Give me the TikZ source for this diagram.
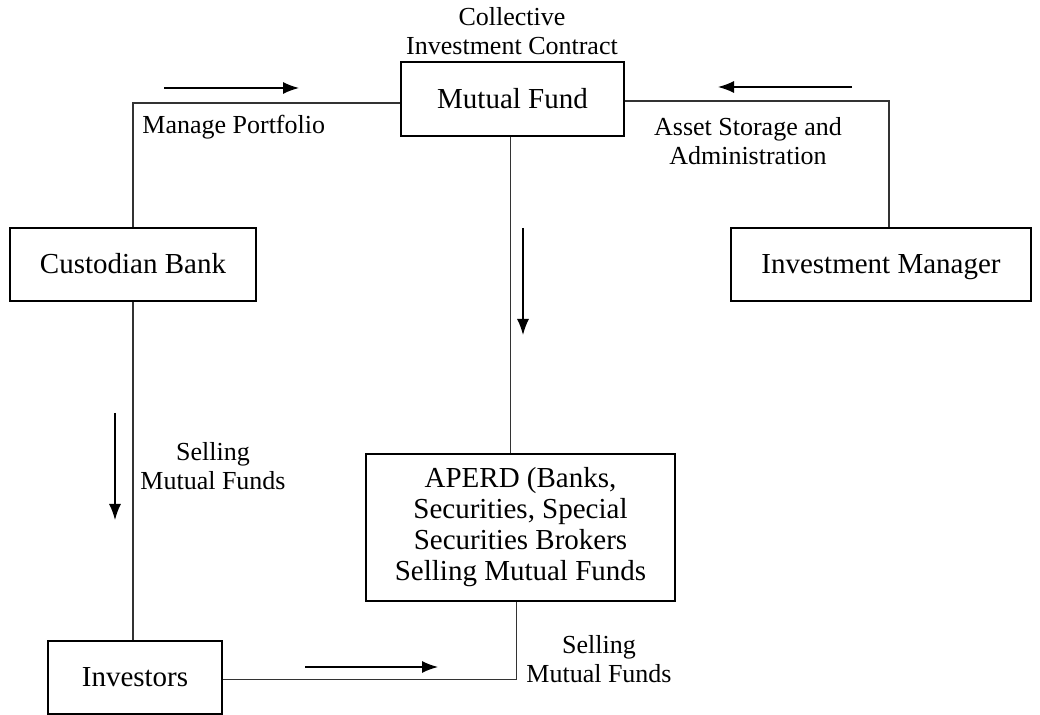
\documentclass[tikz,border=0pt]{standalone}
\usepackage{fontspec}
\setmainfont{Liberation Serif}
\usepackage{tikz}
\usetikzlibrary{arrows.meta}

\begin{document}
\begin{tikzpicture}[x=0.5pt,y=-0.5pt,
	box/.style={draw,line width=1pt,align=center,inner sep=0pt,font=\fontsize{14.5}{15.5}\selectfont},
	oneline/.style={text height=11pt,text depth=1.5pt},
	lbl/.style={align=center,inner sep=0pt,font=\fontsize{13}{14.5}\selectfont},
	link/.style={line width=0.6pt,black!80},
	flow/.style={line width=0.7pt,-{Latex[length=8pt,width=6pt]}}]
	\useasboundingbox (0,0) rectangle (1040,715);
	% boxes
	\node[box,oneline,minimum width=111.5pt,minimum height=37pt] (mf) at (512.5,99) {Mutual Fund};
	\node[box,oneline,minimum width=123pt,minimum height=36.5pt] (cb) at (133,264.5) {Custodian Bank};
	\node[box,oneline,minimum width=150pt,minimum height=36.5pt] (im) at (881,264.5) {Investment Manager};
	\node[box,minimum width=154.5pt,minimum height=73.5pt] (aperd) at (520.5,527.5) {APERD (Banks,\\ Securities, Special\\ Securities Brokers\\ Selling Mutual Funds};
	\node[box,oneline,minimum width=87pt,minimum height=36.5pt] (inv) at (135,677.5) {Investors};
	% connectors
	\draw[link] (cb.north) |- ([yshift=-2pt]mf.west);
	\draw[link] ([yshift=-1pt]mf.east) -| ([xshift=4pt]im.north);
	\draw[link] ([xshift=-1pt]mf.south) -- ([xshift=-1pt]mf.south |- aperd.north);
	\draw[link] (cb.south) -- (cb.south |- inv.north);
	\draw[link] ([xshift=-2pt]aperd.south) |- ([yshift=-1pt]inv.east);
	% flow arrows
	\foreach \n/\xa/\ya/\xb/\yb in {1/164/88/299/88, 2/852/87/718/87, 3/523/228/523/335, 4/115/413/115/520, 5/305/667/438/667}{
		\coordinate (s\n) at (\xa,\ya);
		\coordinate (e\n) at (\xb,\yb);
		\draw[flow] (s\n) -- (e\n);
	}
	% labels
	\node[lbl] (contract) at (512,31) {Collective\\ Investment Contract};
	\node[lbl,anchor=west] (manage) at (142,127) {Manage Portfolio};
	\node[lbl] (storage) at (748,141) {Asset Storage and\\ Administration};
	\node[lbl] (sell1) at (213,466) {Selling\\ Mutual Funds};
	\node[lbl] (sell2) at (599,659) {Selling\\ Mutual Funds};
\end{tikzpicture}
\end{document}
